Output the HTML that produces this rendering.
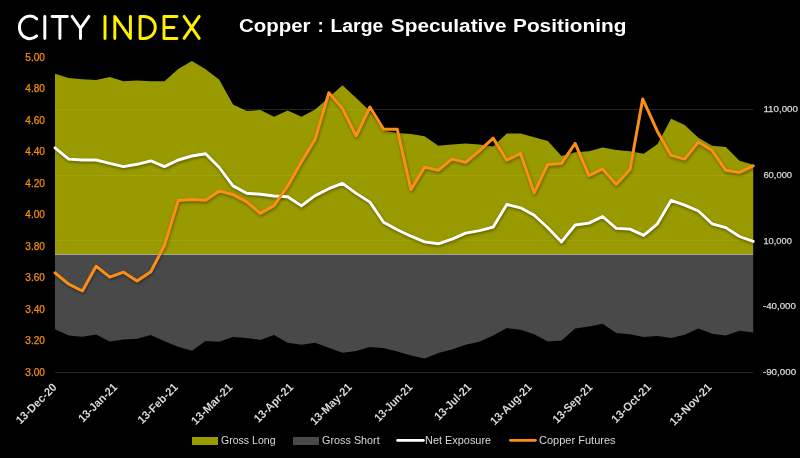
<!DOCTYPE html>
<html><head><meta charset="utf-8"><style>
html,body{margin:0;padding:0;background:#000;}
body{width:800px;height:458px;overflow:hidden;}
svg{display:block;will-change:transform;}
text{font-family:"Liberation Sans",sans-serif;}
</style></head><body>
<svg width="800" height="458" viewBox="0 0 800 458">
<rect width="800" height="458" fill="#000"/>
<g fill="none" stroke-width="2.95" stroke-linecap="round" stroke-linejoin="round">
 <g stroke="#fff">
  <path d="M36.7,18.9 A10.4,11.3 0 1 0 36.7,35.9"/>
  <path d="M44.8,16.4 V38.4"/>
  <path d="M52.1,16.4 H67.3 M59.9,16.4 V38.4"/>
  <path d="M72.1,16.4 L80.5,28.3 L88.9,16.4 M80.5,28.3 V38.4"/>
 </g>
 <g stroke="#fff000">
  <path d="M105.0,16.4 V38.4"/>
  <path d="M114.8,38.4 V16.4 L130.4,38.4 V16.4"/>
  <path d="M140.1,38.4 V16.4 H144.3 A11,11 0 0 1 144.3,38.4 Z"/>
  <path d="M177.0,16.4 H164.0 V38.4 H177.0 M164.0,27.5 H174.0"/>
  <path d="M184.1,16.4 L199.2,38.4 M199.2,16.4 L184.1,38.4"/>
 </g>
</g>
<g fill="#fff" font-weight="bold" font-size="18"><text x="239.00" y="32" textLength="71.50" lengthAdjust="spacingAndGlyphs">Copper</text><text x="317.55" y="32" textLength="6.35" lengthAdjust="spacingAndGlyphs">:</text><text x="330.50" y="32" textLength="52.75" lengthAdjust="spacingAndGlyphs">Large</text><text x="390.80" y="32" textLength="115.70" lengthAdjust="spacingAndGlyphs">Speculative</text><text x="513.00" y="32" textLength="113.40" lengthAdjust="spacingAndGlyphs">Positioning</text></g>
<g stroke="#262626" stroke-width="1"><line x1="55.0" x2="753.2" y1="372.5" y2="372.5"/><line x1="55.0" x2="753.2" y1="306.5" y2="306.5"/><line x1="55.0" x2="753.2" y1="240.5" y2="240.5"/><line x1="55.0" x2="753.2" y1="175.5" y2="175.5"/><line x1="55.0" x2="753.2" y1="109.5" y2="109.5"/></g>
<polygon points="55.0,254.0 55.0,73.7 68.7,78.1 82.4,79.2 96.1,80.0 109.8,77.0 123.5,81.2 137.1,80.4 150.8,81.2 164.5,81.2 178.2,69.0 191.9,61.1 205.6,69.3 219.3,79.8 233.0,104.5 246.7,111.0 260.4,110.1 274.0,116.8 287.7,110.5 301.4,116.8 315.1,109.6 328.8,97.4 342.5,85.2 356.2,98.0 369.9,111.0 383.6,130.5 397.3,132.9 410.9,134.1 424.6,136.3 438.3,145.8 452.0,144.4 465.7,143.5 479.4,144.6 493.1,146.6 506.8,133.4 520.5,133.4 534.2,137.2 547.8,140.9 561.5,155.9 575.2,152.2 588.9,151.2 602.6,147.4 616.3,150.1 630.0,151.2 643.7,153.8 657.4,144.2 671.1,118.7 684.7,125.1 698.4,137.8 712.1,145.7 725.8,147.0 739.5,160.8 753.2,164.8 753.2,254.0" fill="#cccc00" fill-opacity="0.75"/>
<polygon points="55.0,254.0 55.0,329.2 68.7,335.6 82.4,336.7 96.1,334.4 109.8,341.6 123.5,339.6 137.1,338.7 150.8,335.0 164.5,341.2 178.2,346.8 191.9,350.7 205.6,341.0 219.3,341.8 233.0,337.0 246.7,338.1 260.4,339.9 274.0,334.9 287.7,342.8 301.4,344.8 315.1,342.8 328.8,347.8 342.5,352.7 356.2,351.1 369.9,346.9 383.6,347.9 397.3,351.6 410.9,355.6 424.6,358.6 438.3,352.9 452.0,349.6 465.7,344.8 479.4,341.7 493.1,335.4 506.8,328.0 520.5,329.8 534.2,334.2 547.8,341.4 561.5,340.6 575.2,328.6 588.9,326.4 602.6,323.7 616.3,333.1 630.0,334.2 643.7,337.0 657.4,336.1 671.1,338.1 684.7,334.7 698.4,328.6 712.1,333.7 725.8,335.6 739.5,330.8 753.2,332.5 753.2,254.0" fill="#494949"/>
<line x1="55.0" x2="753.2" y1="254.5" y2="254.5" stroke="#a6a6a6" stroke-width="1"/>
<defs><filter id="sh" x="-5%" y="-20%" width="110%" height="140%"><feGaussianBlur stdDeviation="1.4"/></filter></defs>
<g fill="none" stroke="#000" stroke-opacity="0.4" stroke-width="3.0" stroke-linejoin="round" filter="url(#sh)" transform="translate(0.6,1.5)">
<polyline points="55.0,147.8 68.7,159.1 82.4,160.0 96.1,160.0 109.8,163.4 123.5,166.6 137.1,164.3 150.8,160.9 164.5,166.6 178.2,160.0 191.9,156.0 205.6,153.8 219.3,167.5 233.0,185.9 246.7,193.2 260.4,194.3 274.0,196.0 287.7,196.8 301.4,205.9 315.1,195.6 328.8,188.7 342.5,183.4 356.2,193.4 369.9,202.1 383.6,222.2 397.3,229.7 410.9,236.2 424.6,241.9 438.3,243.8 452.0,239.1 465.7,233.1 479.4,230.6 493.1,227.2 506.8,204.4 520.5,207.8 534.2,215.2 547.8,227.8 561.5,241.9 575.2,225.0 588.9,223.1 602.6,216.5 616.3,228.4 630.0,229.1 643.7,235.4 657.4,223.8 671.1,200.4 684.7,205.1 698.4,211.0 712.1,223.8 725.8,227.6 739.5,236.5 753.2,241.4"/><polyline points="55.0,272.9 68.7,284.2 82.4,291.0 96.1,266.2 109.8,277.2 123.5,272.2 137.1,281.0 150.8,271.7 164.5,245.3 178.2,200.6 191.9,199.5 205.6,200.3 219.3,190.9 233.0,194.7 246.7,201.8 260.4,213.4 274.0,205.6 287.7,186.2 301.4,161.9 315.1,139.4 328.8,92.8 342.5,108.6 356.2,136.0 369.9,107.0 383.6,129.3 397.3,129.3 410.9,189.6 424.6,167.1 438.3,170.3 452.0,159.1 465.7,162.4 479.4,150.9 493.1,138.1 506.8,160.2 520.5,153.5 534.2,192.8 547.8,164.4 561.5,163.4 575.2,143.4 588.9,175.6 602.6,169.0 616.3,184.4 630.0,169.6 642.7,98.9 657.4,131.4 671.1,155.4 684.7,159.1 698.4,142.1 712.1,150.6 725.8,170.3 739.5,172.4 753.2,165.9"/></g>
<polyline points="55.0,147.8 68.7,159.1 82.4,160.0 96.1,160.0 109.8,163.4 123.5,166.6 137.1,164.3 150.8,160.9 164.5,166.6 178.2,160.0 191.9,156.0 205.6,153.8 219.3,167.5 233.0,185.9 246.7,193.2 260.4,194.3 274.0,196.0 287.7,196.8 301.4,205.9 315.1,195.6 328.8,188.7 342.5,183.4 356.2,193.4 369.9,202.1 383.6,222.2 397.3,229.7 410.9,236.2 424.6,241.9 438.3,243.8 452.0,239.1 465.7,233.1 479.4,230.6 493.1,227.2 506.8,204.4 520.5,207.8 534.2,215.2 547.8,227.8 561.5,241.9 575.2,225.0 588.9,223.1 602.6,216.5 616.3,228.4 630.0,229.1 643.7,235.4 657.4,223.8 671.1,200.4 684.7,205.1 698.4,211.0 712.1,223.8 725.8,227.6 739.5,236.5 753.2,241.4" fill="none" stroke="#fff" stroke-width="2.9" stroke-linejoin="round" stroke-linecap="round"/>
<polyline points="55.0,272.9 68.7,284.2 82.4,291.0 96.1,266.2 109.8,277.2 123.5,272.2 137.1,281.0 150.8,271.7 164.5,245.3 178.2,200.6 191.9,199.5 205.6,200.3 219.3,190.9 233.0,194.7 246.7,201.8 260.4,213.4 274.0,205.6 287.7,186.2 301.4,161.9 315.1,139.4 328.8,92.8 342.5,108.6 356.2,136.0 369.9,107.0 383.6,129.3 397.3,129.3 410.9,189.6 424.6,167.1 438.3,170.3 452.0,159.1 465.7,162.4 479.4,150.9 493.1,138.1 506.8,160.2 520.5,153.5 534.2,192.8 547.8,164.4 561.5,163.4 575.2,143.4 588.9,175.6 602.6,169.0 616.3,184.4 630.0,169.6 642.7,98.9 657.4,131.4 671.1,155.4 684.7,159.1 698.4,142.1 712.1,150.6 725.8,170.3 739.5,172.4 753.2,165.9" fill="none" stroke="#fb8f16" stroke-width="3.0" stroke-linejoin="round" stroke-linecap="round"/>
<g fill="#f78c0e" font-size="10" stroke="#f78c0e" stroke-width="0.25"><text x="44.9" y="375.6" text-anchor="end" textLength="19.6" lengthAdjust="spacingAndGlyphs">3.00</text><text x="44.9" y="344.1" text-anchor="end" textLength="19.6" lengthAdjust="spacingAndGlyphs">3.20</text><text x="44.9" y="312.6" text-anchor="end" textLength="19.6" lengthAdjust="spacingAndGlyphs">3.40</text><text x="44.9" y="281.1" text-anchor="end" textLength="19.6" lengthAdjust="spacingAndGlyphs">3.60</text><text x="44.9" y="249.6" text-anchor="end" textLength="19.6" lengthAdjust="spacingAndGlyphs">3.80</text><text x="44.9" y="218.1" text-anchor="end" textLength="19.6" lengthAdjust="spacingAndGlyphs">4.00</text><text x="44.9" y="186.6" text-anchor="end" textLength="19.6" lengthAdjust="spacingAndGlyphs">4.20</text><text x="44.9" y="155.1" text-anchor="end" textLength="19.6" lengthAdjust="spacingAndGlyphs">4.40</text><text x="44.9" y="123.6" text-anchor="end" textLength="19.6" lengthAdjust="spacingAndGlyphs">4.60</text><text x="44.9" y="92.1" text-anchor="end" textLength="19.6" lengthAdjust="spacingAndGlyphs">4.80</text><text x="44.9" y="60.6" text-anchor="end" textLength="19.6" lengthAdjust="spacingAndGlyphs">5.00</text></g>
<g fill="#d9d9d9" font-size="9.9" stroke="#d9d9d9" stroke-width="0.25"><text x="762.9" y="374.9" textLength="33.2" lengthAdjust="spacingAndGlyphs">-90,000</text><text x="762.9" y="309.2" textLength="33.0" lengthAdjust="spacingAndGlyphs">-40,000</text><text x="763.4" y="243.6" textLength="28.5" lengthAdjust="spacingAndGlyphs">10,000</text><text x="763.4" y="178.0" textLength="28.7" lengthAdjust="spacingAndGlyphs">60,000</text><text x="763.4" y="112.3" textLength="34.6" lengthAdjust="spacingAndGlyphs">110,000</text></g>
<g fill="#d9d9d9" font-size="11.5" font-weight="bold"><text transform="translate(57.3,388) rotate(-45)" text-anchor="end" textLength="52" lengthAdjust="spacingAndGlyphs">13-Dec-20</text><text transform="translate(117.9,388) rotate(-45)" text-anchor="end" textLength="49.5" lengthAdjust="spacingAndGlyphs">13-Jan-21</text><text transform="translate(178.6,388) rotate(-45)" text-anchor="end" textLength="51.5" lengthAdjust="spacingAndGlyphs">13-Feb-21</text><text transform="translate(233.3,388) rotate(-45)" text-anchor="end" textLength="53" lengthAdjust="spacingAndGlyphs">13-Mar-21</text><text transform="translate(293.9,388) rotate(-45)" text-anchor="end" textLength="50" lengthAdjust="spacingAndGlyphs">13-Apr-21</text><text transform="translate(352.6,388) rotate(-45)" text-anchor="end" textLength="53.5" lengthAdjust="spacingAndGlyphs">13-May-21</text><text transform="translate(413.2,388) rotate(-45)" text-anchor="end" textLength="48.5" lengthAdjust="spacingAndGlyphs">13-Jun-21</text><text transform="translate(471.9,388) rotate(-45)" text-anchor="end" textLength="46.5" lengthAdjust="spacingAndGlyphs">13-Jul-21</text><text transform="translate(532.5,388) rotate(-45)" text-anchor="end" textLength="53.5" lengthAdjust="spacingAndGlyphs">13-Aug-21</text><text transform="translate(593.2,388) rotate(-45)" text-anchor="end" textLength="51" lengthAdjust="spacingAndGlyphs">13-Sep-21</text><text transform="translate(651.8,388) rotate(-45)" text-anchor="end" textLength="50.5" lengthAdjust="spacingAndGlyphs">13-Oct-21</text><text transform="translate(712.5,388) rotate(-45)" text-anchor="end" textLength="54" lengthAdjust="spacingAndGlyphs">13-Nov-21</text></g>
<g font-size="11.5" fill="#d9d9d9">
 <rect x="192" y="437" width="26" height="8" fill="#999900"/>
 <text x="221" y="444" textLength="54.5" lengthAdjust="spacingAndGlyphs">Gross Long</text>
 <rect x="293" y="437" width="26" height="8" fill="#494949"/>
 <text x="322.1" y="444" textLength="57.6" lengthAdjust="spacingAndGlyphs">Gross Short</text>
 <line x1="397.6" x2="423.4" y1="440.4" y2="440.4" stroke="#fff" stroke-width="2.75" stroke-linecap="round"/>
 <text x="425.1" y="444" textLength="66" lengthAdjust="spacingAndGlyphs">Net Exposure</text>
 <line x1="510.4" x2="535.4" y1="440.3" y2="440.3" stroke="#fb8f16" stroke-width="2.75" stroke-linecap="round"/>
 <text x="539" y="444" textLength="76.6" lengthAdjust="spacingAndGlyphs">Copper Futures</text>
</g>
</svg>
</body></html>
